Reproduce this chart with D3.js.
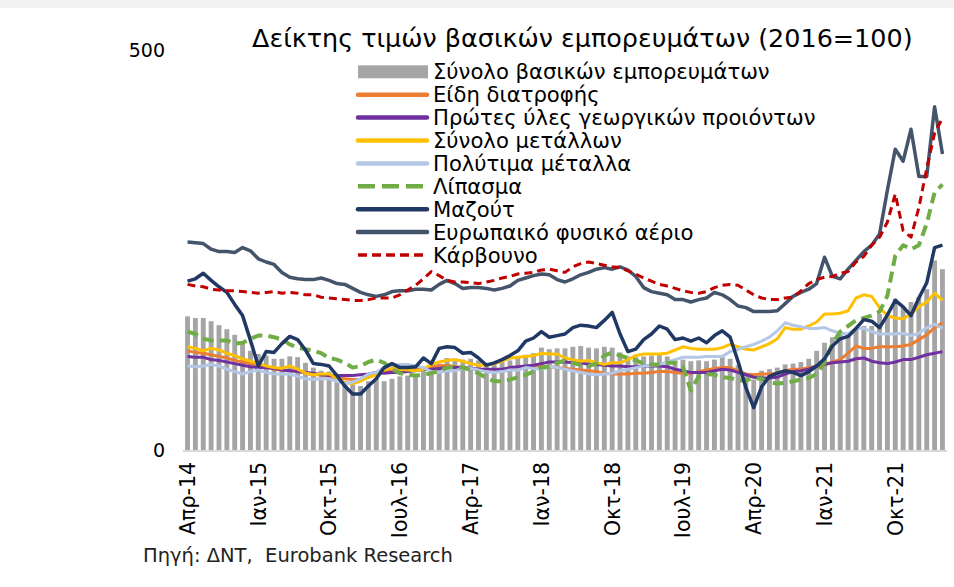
<!DOCTYPE html>
<html>
<head>
<meta charset="utf-8">
<script src="https://cdn.jsdelivr.net/npm/d3@7"></script>
<style>
  body { margin: 0; background: #fff; }
  svg { display: block; font-family: "DejaVu Sans", "Noto Sans", sans-serif; }
</style>
</head>
<body>
<svg id="chart" width="954" height="587"></svg>
<script>
// monthly data Apr-14 .. Apr-22 (97 months), index 2016=100
var months = d3.timeMonths(new Date(2014, 3, 1), new Date(2022, 4, 1));
var tickLabels = ["Απρ-14", "Ιαν-15", "Οκτ-15", "Ιουλ-16", "Απρ-17", "Ιαν-18",
    "Οκτ-18", "Ιουλ-19", "Απρ-20", "Ιαν-21", "Οκτ-21"];
var yTicks = [0, 500];

var total = [167,165,165,161,156,151,144,136,124,120,118,114,114,117,116,109,103,
    99,98,94,86,82,80,86,89,
    86,89,92,93,95,100,104,108,115,114,113,114,112,109,108,110,112,115,119,121,128,126,127,
    127,129,130,128,127,129,128,122,117,116,117,118,119,117,112,113,111,112,111,113,116,114,106,92,88,
    99,101,103,107,108,110,114,124,134,141,144,145,151,155,155,170,172,189,178,185,191,201,237,226];

var food = [124,122,121,119,117,115,112,110,108,106,104,101,100,99,99,96,94,94,92,90,89,88,88,91,95,
    98,99,100,100,102,102,104,105,106,104,103,102,101,100,99,100,102,103,104,105,105,104,103,
    102,101,100,99,98,96,95,95,95,96,96,97,98,98,97,96,96,98,100,102,103,103,99,95,94,
    95,95,96,99,101,101,103,104,106,110,113,121,130,127,127,129,129,129,130,132,138,144,153,159];

var agri = [117,116,116,113,112,110,108,106,104,103,103,102,100,99,98,97,96,94,93,93,93,93,94,95,97,
    96,97,97,98,99,101,101,102,103,103,103,102,101,101,101,101,103,104,105,106,108,110,110,
    110,109,109,107,107,106,105,105,104,104,105,105,105,104,101,99,97,97,97,99,101,100,97,94,91,
    90,90,91,95,98,99,101,105,107,109,110,111,114,115,111,109,108,110,113,113,116,119,121,123];

var metals = [129,127,124,127,125,121,118,114,111,108,105,103,102,105,101,96,94,95,95,90,84,83,86,91,94,
    100,103,101,100,99,101,107,110,112,113,111,108,106,106,108,111,115,116,117,118,121,120,120,
    115,113,111,112,109,107,109,109,113,118,120,120,120,121,125,129,127,126,126,126,128,132,129,126,125,
    129,133,139,153,151,151,155,160,170,170,171,174,190,194,192,178,168,165,164,170,179,185,196,187];

var precious = [105,104,105,107,105,101,98,95,98,100,97,95,95,95,92,89,88,89,89,86,83,85,89,95,97,
    103,106,107,107,105,103,98,97,99,99,102,102,100,98,97,98,100,100,103,102,101,104,103,
    101,99,97,95,94,95,96,99,101,103,105,106,107,110,113,116,116,116,117,117,117,123,126,129,132,
    136,141,149,159,156,154,152,152,153,149,146,145,152,152,148,145,145,145,146,143,146,153,157,152];

var fertilizer = [148,145,139,137,137,137,133,134,139,143,143,141,138,132,128,126,124,121,115,113,109,103,105,110,113,
    109,101,96,94,93,94,96,99,103,104,103,100,96,90,86,86,88,91,94,98,103,104,109,
    112,109,106,105,108,118,122,118,115,112,108,107,107,109,109,104,74,92,95,94,91,90,87,87,90,
    89,85,83,84,86,88,90,95,109,133,148,155,162,165,168,173,193,243,256,251,256,283,322,332];

var fuelOil = [211,214,221,212,204,197,182,168,137,105,123,122,133,142,138,125,108,107,105,93,80,70,70,80,89,
    103,108,103,103,104,115,108,127,129,128,121,122,115,106,109,113,118,124,136,140,148,141,143,
    145,153,156,155,153,162,172,145,123,126,138,145,155,151,138,140,136,140,134,143,149,141,111,78,53,
    79,92,96,99,97,93,98,105,114,130,139,142,152,163,161,153,169,187,179,168,190,209,253,256];

var gas = [260,259,258,251,248,248,247,253,249,239,235,232,222,216,214,213,213,215,212,208,207,202,197,194,192,
    194,198,199,199,201,201,200,207,212,208,202,203,203,202,200,202,205,212,215,218,220,219,213,
    210,214,219,222,226,228,226,229,225,217,203,198,196,194,188,188,185,188,190,197,194,188,180,178,173,
    173,173,174,183,192,197,201,208,241,217,214,226,237,248,256,270,325,376,361,401,342,342,429,370];

var coal = [207,205,204,201,200,199,199,198,197,196,197,198,196,197,196,194,194,191,190,189,188,187,187,188,190,
    190,190,194,200,206,214,223,218,212,210,210,209,208,210,212,215,217,220,221,222,225,226,224,
    222,229,233,235,233,231,229,228,224,220,215,211,207,205,202,199,197,196,198,203,206,207,206,200,194,
    190,188,188,190,191,199,208,213,216,217,221,223,235,242,256,266,285,320,274,266,303,352,396,415];

var seriesNames = ["Σύνολο βασικών εμπορευμάτων", "Είδη διατροφής", "Πρώτες ύλες γεωργικών προιόντων",
    "Σύνολο μετάλλων", "Πολύτιμα μέταλλα", "Λίπασμα", "Μαζούτ", "Ευρωπαικό φυσικό αέριο", "Κάρβουνο"];

var lineSeries = [
    {name: seriesNames[1], values: food,       color: "#ED7D31", width: 3},
    {name: seriesNames[2], values: agri,       color: "#7030A0", width: 3},
    {name: seriesNames[3], values: metals,     color: "#FFC000", width: 3},
    {name: seriesNames[4], values: precious,   color: "#B4C7E7", width: 3},
    {name: seriesNames[5], values: fertilizer, color: "#70AD47", width: 4, dash: "11,6"},
    {name: seriesNames[6], values: fuelOil,    color: "#203864", width: 3.5},
    {name: seriesNames[7], values: gas,        color: "#44546A", width: 3.5},
    {name: seriesNames[8], values: coal,       color: "#C00000", width: 3, dash: "8,5"}
];

var svg = d3.select("#chart");

// fit a text element to a target width by changing its font size
function fitText(sel, target) {
    var fs = parseFloat(sel.style("font-size"));
    var len = sel.node().getComputedTextLength();
    sel.style("font-size", (fs * target / len) + "px");
}

svg.append("rect").attr("x", 0).attr("y", 0).attr("width", 954).attr("height", 8).attr("fill", "#f2f2f2");

var x = d3.scaleBand().domain(d3.range(months.length)).range([183.6, 946.4])
    .paddingInner(0.38).paddingOuter(0.19);
var y = d3.scaleLinear().domain([0, 500]).range([450, 50]);
var cx = function(i) { return x(i) + x.bandwidth() / 2; };

// bars
svg.append("g").selectAll("rect").data(total).enter().append("rect")
    .attr("x", function(d, i) { return x(i); })
    .attr("y", function(d) { return y(d); })
    .attr("width", x.bandwidth())
    .attr("height", function(d) { return y(0) - y(d); })
    .attr("fill", "#A5A5A5");

// base line
svg.append("line").attr("x1", 183).attr("x2", 947).attr("y1", 451).attr("y2", 451)
    .attr("stroke", "#d9d9d9").attr("stroke-width", 2);

var line = d3.line().x(function(d, i) { return cx(i); }).y(function(d) { return y(d); });

svg.append("g").selectAll("path").data(lineSeries).enter().append("path")
    .attr("d", function(s) { return line(s.values); })
    .attr("fill", "none")
    .attr("stroke", function(s) { return s.color; })
    .attr("stroke-width", function(s) { return s.width; })
    .attr("stroke-dasharray", function(s) { return s.dash || null; })
    .attr("stroke-linejoin", "round");

// y labels
svg.append("g").selectAll("text").data(yTicks).enter().append("text")
    .attr("x", 165).attr("y", function(d) { return y(d); })
    .attr("dy", "0.36em").attr("text-anchor", "end")
    .style("font-size", "19px").attr("fill", "#000")
    .text(function(d) { return d; });

// x labels every 9 months
var xl = svg.append("g").selectAll("text").data(tickLabels).enter().append("text")
    .attr("transform", function(d, k) { return "translate(" + cx(k * 9) + ",462) rotate(-90)"; })
    .attr("dy", "0.36em").attr("text-anchor", "end")
    .style("font-size", "16px").attr("fill", "#000")
    .text(function(d) { return d; });
var first = d3.select(xl.nodes()[0]);
fitText(first, 73);
xl.style("font-size", first.style("font-size"));

// title
var title = svg.append("text").attr("x", 252).attr("y", 47)
    .style("font-size", "24px").attr("fill", "#000")
    .text("Δείκτης τιμών βασικών εμπορευμάτων (2016=100)");
fitText(title, 661);

// legend
var legY = function(k) { return 71.8 + k * 22.9; };
var leg = svg.append("g");
leg.append("rect").attr("x", 358).attr("y", legY(0) - 6.5).attr("width", 70).attr("height", 13)
    .attr("fill", "#A5A5A5");
leg.selectAll("line").data(lineSeries).enter().append("line")
    .attr("x1", 358).attr("x2", 427)
    .attr("y1", function(s, k) { return legY(k + 1); })
    .attr("y2", function(s, k) { return legY(k + 1); })
    .attr("stroke", function(s) { return s.color; })
    .attr("stroke-width", function(s) { return s.dash ? s.width + 0.5 : 4.5; })
    .attr("stroke-dasharray", function(s) { return s.color == "#70AD47" ? "17,7" : (s.dash ? "9,5" : null); })
    .attr("stroke-linecap", function(s) { return s.dash ? "butt" : "round"; });
var lt = leg.selectAll("text").data(seriesNames).enter().append("text")
    .attr("x", 433).attr("y", function(d, k) { return legY(k); })
    .attr("dy", "0.36em").style("font-size", "18px").attr("fill", "#000")
    .text(function(d) { return d; });
var lt0 = d3.select(lt.nodes()[0]);
fitText(lt0, 337);
lt.style("font-size", lt0.style("font-size"));

// source
var src = svg.append("text").attr("x", 143).attr("y", 555).attr("dy", "0.36em")
    .style("font-size", "15px").attr("fill", "#222")
    .text("Πηγή: ΔΝΤ,  Eurobank Research");
src.attr("xml:space", "preserve");
fitText(src, 310);
</script>
</body>
</html>
